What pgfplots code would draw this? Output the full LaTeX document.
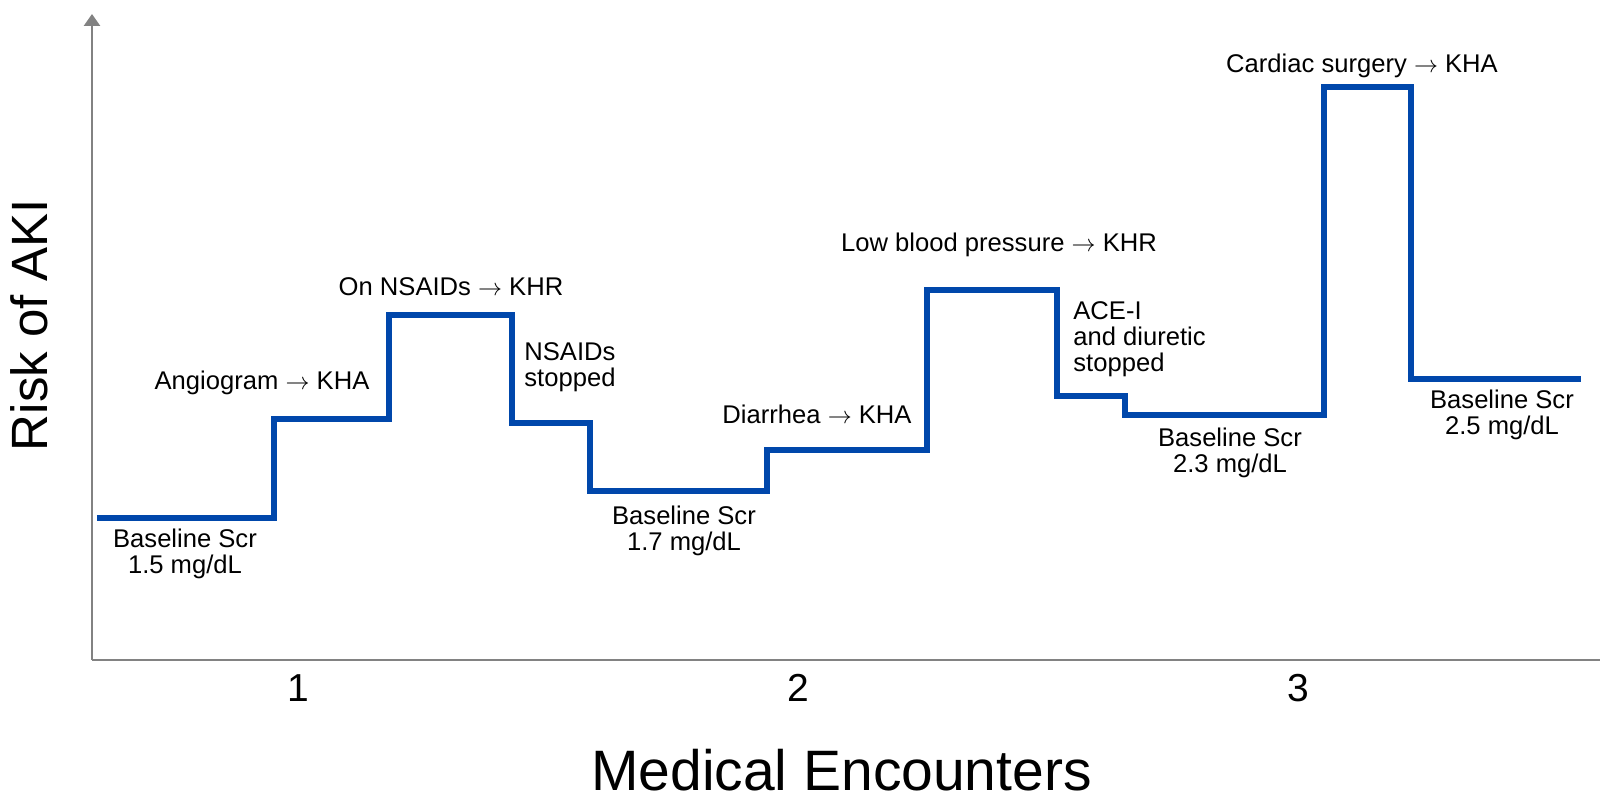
\documentclass[border=0pt]{standalone}
\usepackage{fontspec}
\setmainfont{Liberation Sans}
\usepackage{pgfplots}
\pgfplotsset{compat=1.18}
\usetikzlibrary{arrows.meta}
\definecolor{stepblue}{RGB}{0,71,171}
\definecolor{axisgray}{RGB}{130,130,130}
\tikzset{ann/.style={font=\fontsize{12.8pt}{13pt}\selectfont, inner sep=0pt, align=center, text=black}}
\begin{document}
\begin{tikzpicture}
\useasboundingbox (0,0) rectangle (806.5pt,403pt);
\begin{axis}[
  at={(46pt,73pt)}, anchor=south west,
  x=250pt, y=0.5pt,
  xmin=0.588, xmax=3.604, ymin=0, ymax=646,
  enlargelimits=false, clip=false,
  axis lines=left,
  x axis line style={-, axisgray, line width=1.3pt},
  y axis line style={-{Triangle[length=6pt,width=8pt]}, axisgray, line width=1.3pt},
  xtick={1,2,3}, xticklabels={1,2,3}, ytick=\empty,
  major tick length=0pt,
  xticklabel style={anchor=center, yshift=-14pt, font=\fontsize{19.5pt}{20pt}\selectfont},
  xlabel={Medical Encounters}, ylabel={Risk of AKI},
  every axis x label/.style={at={(axis description cs:0.497,-0.1703)}, anchor=center, font=\fontsize{28.5pt}{29pt}\selectfont},
  every axis y label/.style={at={(axis description cs:-0.0415,0.5186)}, anchor=center, rotate=90, font=\fontsize{25.5pt}{26pt}\selectfont},
  /pgf/number format/assume math mode=true,
]
\addplot[const plot, stepblue, line width=3.2pt, line join=miter] coordinates {
(0.598,142) (0.952,241) (1.182,345) (1.428,237) (1.584,169) (1.938,210)
(2.258,370) (2.518,264) (2.654,245) (3.052,573) (3.226,281) (3.566,281)
};
\node[ann] at (axis cs:0.928,277) {Angiogram $\rightarrow$ KHA};
\node[ann] at (axis cs:1.306,373) {On NSAIDs $\rightarrow$ KHR};
\node[ann, anchor=west, align=left] at (axis cs:1.452,292.5) {NSAIDs\\stopped};
\node[ann] at (axis cs:0.774,106.5) {Baseline Scr\\1.5 mg/dL};
\node[ann] at (axis cs:1.772,129) {Baseline Scr\\1.7 mg/dL};
\node[ann] at (axis cs:2.038,246) {Diarrhea $\rightarrow$ KHA};
\node[ann] at (axis cs:2.402,415) {Low blood pressure $\rightarrow$ KHR};
\node[ann, anchor=west, align=left] at (axis cs:2.55,321) {ACE-I\\and diuretic\\stopped};
\node[ann] at (axis cs:2.864,207.5) {Baseline Scr\\2.3 mg/dL};
\node[ann] at (axis cs:3.128,594) {Cardiac surgery $\rightarrow$ KHA};
\node[ann] at (axis cs:3.408,245) {Baseline Scr\\2.5 mg/dL};
\end{axis}
\end{tikzpicture}
\end{document}
